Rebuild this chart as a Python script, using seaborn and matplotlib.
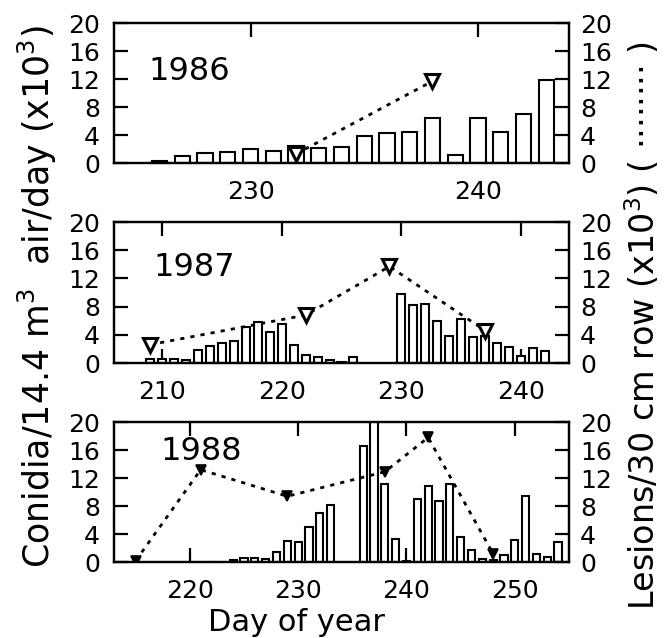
import matplotlib
matplotlib.use('Agg')
import matplotlib.pyplot as plt
import seaborn as sns

# conidia bars (x10^3 per 14.4 m3 air per day)
days_1986 = list(range(226, 244))
conidia_1986 = [0.3, 1.0, 1.4, 1.6, 2.0, 1.7, 2.4, 2.1, 2.3, 3.9, 4.3, 4.5,
                6.4, 1.1, 6.4, 4.4, 7.0, 11.9]
days_1987 = list(range(209, 227)) + list(range(230, 243))
conidia_1987 = [0.6, 0.6, 0.6, 0.4, 1.9, 2.4, 2.8, 3.1, 5.1, 5.8, 4.4, 5.6,
                2.5, 1.2, 0.9, 0.4, 0.2, 0.8,
                9.8, 8.2, 8.4, 6.0, 3.9, 6.2, 3.7, 3.8, 2.9, 2.3, 1.0, 2.1, 1.7]
days_1988 = list(range(221, 234)) + list(range(236, 255))
conidia_1988 = [0.05, 0.05, 0.05, 0.25, 0.6, 0.6, 0.4, 1.4, 3.0, 2.8, 5.0, 7.0, 8.1,
                16.6, 24.0, 11.2, 3.3, 0.1, 9.0, 10.9, 8.7, 11.1, 3.6, 1.7, 0.5,
                0.25, 1.0, 3.1, 9.4, 1.1, 0.7, 2.8]

# lesions (x10^3 per 30 cm row)
lesion_days_1986 = [232, 238]
lesions_1986 = [1.3, 11.7]
lesion_days_1987 = [209, 222, 229, 237]
lesions_1987 = [2.6, 6.8, 13.7, 4.6]
lesion_days_1988 = [215, 221, 229, 238, 242, 248]
lesions_1988 = [0.2, 13.2, 9.4, 12.9, 17.8, 1.2]

years = ['1986', '1987', '1988']
xlims = [(224, 244), (206, 244), (213, 255)]
xticks = [[230, 240], [210, 220, 230, 240], [220, 230, 240, 250]]
yticks = [0, 4, 8, 12, 16, 20]

sns.set_style('ticks')
plt.rcParams['font.family'] = ['DejaVu Sans']
plt.rcParams.update({'text.color': 'black', 'axes.labelcolor': 'black',
                     'xtick.color': 'black', 'ytick.color': 'black',
                     'axes.edgecolor': 'black'})

fig = plt.figure(figsize=(6.67, 6.38), dpi=100)
panels = [
    (days_1986, conidia_1986, lesion_days_1986, lesions_1986),
    (days_1987, conidia_1987, lesion_days_1987, lesions_1987),
    (days_1988, conidia_1988, lesion_days_1988, lesions_1988),
]
bottoms = [0.7445, 0.431, 0.119]
heights = [0.2194, 0.221, 0.2194]
year_pos = [(0.075, 0.657), (0.086, 0.675), (0.101, 0.787)]

for i, (d, c, ld, lv) in enumerate(panels):
    ax = fig.add_axes([0.171, bottoms[i], 0.682, heights[i]])
    sns.barplot(x=d, y=c, ax=ax, native_scale=True, width=0.67,
                color='white', saturation=1, edgecolor='black',
                linewidth=1.5, errorbar=None)
    ax.set_xlim(*xlims[i])
    ax.set_ylim(0, 20)
    ax.set_xticks(xticks[i])
    ax.set_yticks(yticks)
    ax.tick_params(axis='both', direction='in', length=10, width=1.6,
                   labelsize=18, top=True)
    ax.tick_params(axis='y', pad=10)
    ax.tick_params(axis='x', pad=12)
    ax.set_xlabel('')
    ax.set_ylabel('')
    for s in ax.spines.values():
        s.set_linewidth(1.6)

    ax2 = ax.twinx()
    if i == 2:
        sns.lineplot(x=ld, y=lv, ax=ax2, color='black', linewidth=2,
                     linestyle=(0, (1.5, 2.2)), marker='v', markersize=7,
                     markerfacecolor='black', markeredgecolor='black',
                     markeredgewidth=1.2)
    else:
        sns.lineplot(x=ld, y=lv, ax=ax2, color='black', linewidth=2,
                     linestyle=(0, (1.5, 2.2)), marker='v', markersize=10,
                     markerfacecolor='white', markeredgecolor='black',
                     markeredgewidth=2.2)
    ax2.set_ylim(0, 20)
    ax2.set_yticks(yticks)
    ax2.tick_params(axis='y', direction='in', length=10, width=1.6,
                    labelsize=18, pad=8)
    ax2.set_xlabel('')
    ax2.set_ylabel('')
    ax2.set_xlim(*xlims[i])
    for s in ax2.spines.values():
        s.set_linewidth(1.6)

    ax.text(year_pos[i][0], year_pos[i][1], years[i], transform=ax.transAxes,
            ha='left', va='center', fontsize=23)

fig.text(0.056, 0.535, 'Conidia/14.4 m$^3$  air/day (x10$^3$)', rotation=90,
         ha='center', va='center', fontsize=25)
fig.text(0.964, 0.49, 'Lesions/30 cm row (x10$^3$) ( \u00b7\u00b7\u00b7\u00b7\u00b7\u00b7\u00b7\u00b7 )',
         rotation=90, ha='center', va='center', fontsize=24)
fig.text(0.445, 1 - 631 / 638, 'Day of year', ha='center', va='baseline',
         fontsize=22)

fig.savefig('out.png', dpi=100)
